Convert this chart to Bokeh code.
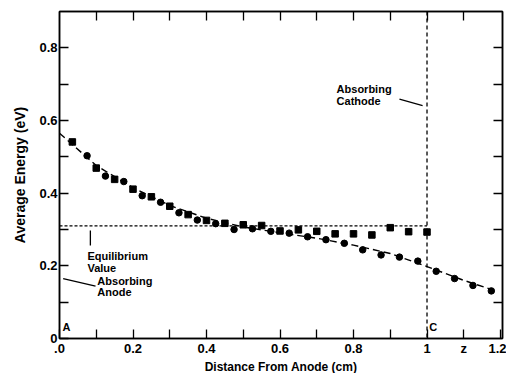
from bokeh.plotting import figure
from bokeh.models import Range1d, FixedTicker, LinearAxis, Label, Span
from bokeh.embed import file_html
from bokeh.resources import INLINE

# ---- data ----
square_x = [0.035, 0.10, 0.15, 0.20, 0.25, 0.30, 0.35, 0.40, 0.45, 0.50, 0.55, 0.60,
            0.65, 0.70, 0.75, 0.80, 0.85, 0.90, 0.95, 1.00]
square_y = [0.541, 0.469, 0.438, 0.411, 0.390, 0.364, 0.341, 0.325, 0.317, 0.313, 0.311, 0.296,
            0.299, 0.295, 0.288, 0.288, 0.285, 0.305, 0.294, 0.293]

circle_x = [0.075, 0.125, 0.175, 0.225, 0.275, 0.325, 0.375, 0.425, 0.475, 0.525, 0.575, 0.625,
            0.675, 0.725, 0.775, 0.825, 0.875, 0.925, 0.975, 1.025, 1.075, 1.125, 1.175]
circle_y = [0.503, 0.447, 0.432, 0.393, 0.375, 0.346, 0.326, 0.316, 0.300, 0.302, 0.295, 0.290,
            0.280, 0.272, 0.262, 0.244, 0.230, 0.224, 0.213, 0.185, 0.165, 0.146, 0.131]

fit_x = [0.0, 0.1, 0.2, 0.3, 0.4, 0.5, 0.6, 0.7, 0.8, 0.9, 1.0, 1.1, 1.19]
fit_y = [0.565, 0.476, 0.415, 0.366, 0.331, 0.307, 0.291, 0.276, 0.257, 0.234, 0.198, 0.160, 0.130]

equilibrium_value = 0.31
equilibrium_x = [0.0, 1.0]
cathode_x = 1.0

x_ticks = [0.0, 0.1, 0.2, 0.3, 0.4, 0.5, 0.6, 0.7, 0.8, 0.9, 1.0, 1.1, 1.2]
x_labels = {0.0: ".0", 0.2: "0.2", 0.4: "0.4", 0.6: "0.6", 0.8: "0.8", 1.0: "1", 1.1: "z", 1.2: "1.2"}
y_ticks = [0.0, 0.1, 0.2, 0.3, 0.4, 0.5, 0.6, 0.7, 0.8]
y_labels = {0.0: "0", 0.2: "0.2", 0.4: "0.4", 0.6: "0.6", 0.8: "0.8"}

FONT = "Liberation Sans"

p = figure(frame_width=443, frame_height=327,
           x_range=Range1d(0, 1.2054), y_range=Range1d(0, 0.9),
           output_backend="svg", toolbar_location=None,
           min_border_left=59, min_border_right=4, min_border_top=11, min_border_bottom=34,
           background_fill_color="white", border_fill_color="white")
p.grid.visible = False
p.outline_line_color = "black"
p.outline_line_width = 1.5

def style_axis(ax, ticks, labels, show_labels=True):
    ax.ticker = FixedTicker(ticks=ticks)
    ax.major_label_overrides = {t: labels.get(t, "") for t in ticks}
    ax.major_tick_in = 9
    ax.major_tick_out = 0
    ax.minor_tick_in = 0
    ax.minor_tick_out = 0
    ax.axis_line_width = 1.5
    ax.major_tick_line_width = 1.3
    ax.major_label_text_font = FONT
    ax.major_label_text_font_style = "bold"
    ax.major_label_text_color = "black"
    ax.axis_label_text_font = FONT
    ax.axis_label_text_font_style = "bold"
    ax.axis_label_text_color = "black"
    ax.axis_label_text_font_size = "12px"
    if show_labels:
        ax.major_label_text_font_size = "13px"
        ax.major_label_standoff = 2
        ax.axis_label_standoff = 1
    else:
        ax.major_label_text_font_size = "0px"
        ax.major_label_standoff = 0

xa = p.xaxis[0]
style_axis(xa, x_ticks, x_labels)
xa.axis_label = "Distance From Anode (cm)"
ya = p.yaxis[0]
style_axis(ya, y_ticks, y_labels)
ya.axis_label = "Average Energy (eV)"
ya.axis_label_text_font_size = "14px"
ya.axis_label_standoff = 8

top = LinearAxis()
style_axis(top, x_ticks[1:-1], {}, show_labels=False)
p.add_layout(top, "above")
right = LinearAxis()
style_axis(right, y_ticks[1:], {}, show_labels=False)
p.add_layout(right, "right")

# fitted curve and reference lines
p.line(fit_x, fit_y, line_color="black", line_width=1.4, line_dash="7 4")
p.line(equilibrium_x, [equilibrium_value] * 2, line_color="black", line_width=1.3, line_dash="3 2")
p.add_layout(Span(location=cathode_x, dimension="height", line_color="black",
                  line_width=1.3, line_dash="4 3"))

# data points
p.scatter(square_x, square_y, marker="square", size=6.5, color="black")
p.scatter(circle_x, circle_y, marker="circle", size=6.5, color="black")

# annotations
def note(x, y, text, anchor="top_left"):
    p.add_layout(Label(x=x, y=y, text=text, text_font=FONT, text_font_style="bold",
                       text_font_size="11px", text_color="black", text_line_height=0.95,
                       anchor=anchor))

note(0.754, 0.702, "Absorbing\nCathode")
p.segment(x0=[0.925, 0.084, 0.010], y0=[0.659, 0.297, 0.165],
          x1=[0.988, 0.084, 0.098], y1=[0.641, 0.256, 0.144],
          line_color="black", line_width=1.3)
note(0.076, 0.243, "Equilibrium\nValue")
note(0.103, 0.176, "Absorbing\nAnode")
note(0.008, 0.014, "A", anchor="bottom_left")
note(1.006, 0.014, "C", anchor="bottom_left")

open("out.html", "w").write(file_html(p, INLINE))
